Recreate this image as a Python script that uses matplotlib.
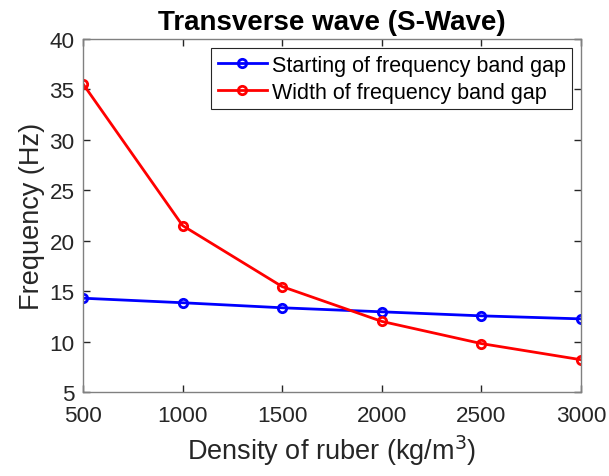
import matplotlib
matplotlib.use('Agg')
import matplotlib.pyplot as plt

plt.rcParams['font.family'] = ['Liberation Sans', 'DejaVu Sans']

density = [500, 1000, 1500, 2000, 2500, 3000]
start_gap = [14.3, 13.85, 13.35, 12.95, 12.55, 12.25]
width_gap = [35.55, 21.5, 15.45, 12.0, 9.8, 8.2]

fig = plt.figure(figsize=(6.09, 4.77), dpi=100)
# axes box: x 83..581, y 40..393 px
ax = fig.add_axes([83 / 609, 1 - 393 / 477, 498 / 609, 353 / 477])

ax.plot(density, start_gap, color='blue', linewidth=2, marker='o', markersize=6,
        markerfacecolor='none', markeredgewidth=2, label='Starting of frequency band gap')
ax.plot(density, width_gap, color='red', linewidth=2, marker='o', markersize=6,
        markerfacecolor='none', markeredgewidth=2, label='Width of frequency band gap')

ax.set_xlim(500, 3000)
ax.set_ylim(5, 40)
ax.set_xticks(density)
ax.set_yticks(range(5, 41, 5))
ax.tick_params(direction='in', top=True, right=True, labelsize=16.2, colors='#262626',
               length=5, width=1)
ax.tick_params(axis='x', pad=9)
ax.tick_params(axis='y', pad=6)
for s in ax.spines.values():
    s.set_color('#808080')
    s.set_linewidth(1)

ax.set_xlabel('Density of ruber (kg/m$^3$)', fontsize=19.5, color='#262626', labelpad=5)
ax.set_ylabel('Frequency (Hz)', fontsize=19.5, color='#262626', labelpad=3)
ax.set_title('Transverse wave (S-Wave)', fontsize=20, fontweight='bold', pad=7)

leg = ax.legend(loc='upper right', fontsize=15.5, fancybox=False, framealpha=1,
                handlelength=2.3, handletextpad=0.2, borderaxespad=0.42,
                borderpad=0.3, labelspacing=0.3)
leg.get_frame().set_edgecolor('#262626')
leg.get_frame().set_linewidth(0.8)

fig.savefig('out.png', dpi=100)
